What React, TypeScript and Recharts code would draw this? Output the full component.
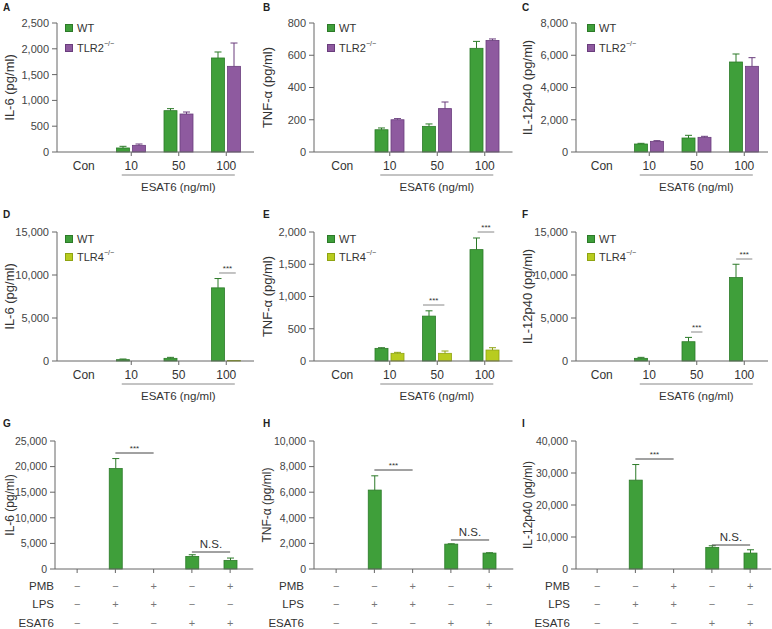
import { BarChart, Bar, XAxis, YAxis, Legend, ReferenceLine } from 'recharts';

// categories
const doseCats = ['Con', '10', '50', '100'];
const pmbRow = ['−', '−', '+', '−', '+'];
const lpsRow = ['−', '+', '+', '−', '−'];
const esatRow = ['−', '−', '−', '+', '+'];

// A: IL-6, WT vs TLR2-/-
const aWt = [0, 78, 801, 1822];
const aWtErr = [0, 32, 39, 116];
const aKo = [0, 129, 736, 1660];
const aKoErr = [0, 26, 39, 452];
const aTicks = [0, 500, 1000, 1500, 2000, 2500];

// B: TNF-a, WT vs TLR2-/-
const bWt = [0, 138, 159, 643];
const bWtErr = [0, 11, 15, 43];
const bKo = [0, 200, 269, 692];
const bKoErr = [0, 7, 41, 9];
const bTicks = [0, 200, 400, 600, 800];

// C: IL-12p40, WT vs TLR2-/-
const cWt = [0, 496, 868, 5581];
const cWtErr = [0, 41, 166, 497];
const cKo = [0, 661, 909, 5313];
const cKoErr = [0, 42, 63, 537];
const cTicks = [0, 2000, 4000, 6000, 8000];

// D: IL-6, WT vs TLR4-/-
const dWt = [0, 155, 309, 8505];
const dWtErr = [0, 77, 116, 1083];
const dKo = [0, 0, 0, 50];
const dKoErr = [0, 0, 0, 0];
const dTicks = [0, 5000, 10000, 15000];

// E: TNF-a, WT vs TLR4-/-
const eWt = [0, 196, 696, 1727];
const eWtErr = [0, 10, 82, 180];
const eKo = [0, 119, 119, 170];
const eKoErr = [0, 15, 36, 36];
const eTicks = [0, 500, 1000, 1500, 2000];

// F: IL-12p40, WT vs TLR4-/-
const fWt = [0, 309, 2242, 9704];
const fWtErr = [0, 116, 503, 1546];
const fKo = [0, 0, 0, 0];
const fKoErr = [0, 0, 0, 0];
const fTicks = [0, 5000, 10000, 15000];

// G-I: PMB / LPS / ESAT6
const gVals = [0, 19624, 0, 2461, 1684];
const gErr = [0, 1943, 0, 324, 453];
const gTicks = [0, 5000, 10000, 15000, 20000, 25000];
const hVals = [0, 6166, 0, 1943, 1244];
const hErr = [0, 1114, 0, 26, 26];
const hTicks = [0, 2000, 4000, 6000, 8000, 10000];
const iVals = [0, 27772, 0, 6736, 4974];
const iErr = [0, 4870, 0, 518, 1036];
const iTicks = [0, 10000, 20000, 30000, 40000];

type Sig = { from: number; to: number; y: number; label: string };
const dSig: Sig[] = [{ from: 2.85, to: 3.2, y: 10233, label: '***' }];
const eSig: Sig[] = [
  { from: 1.7, to: 2.15, y: 868, label: '***' },
  { from: 2.85, to: 3.2, y: 2000, label: '***' },
];
const fSig: Sig[] = [
  { from: 1.88, to: 2.12, y: 3372, label: '***' },
  { from: 2.83, to: 3.17, y: 11860, label: '***' },
];
const gSig: Sig[] = [
  { from: 1, to: 2, y: 22656, label: '***' },
  { from: 3, to: 4, y: 3320, label: 'N.S.' },
];
const hSig: Sig[] = [
  { from: 1, to: 2, y: 7734, label: '***' },
  { from: 3, to: 4, y: 2266, label: 'N.S.' },
];
const iSig: Sig[] = [
  { from: 1, to: 2, y: 34375, label: '***' },
  { from: 3, to: 4, y: 7500, label: 'N.S.' },
];

const W = 772;
const H = 629;
const FONT = '"Liberation Sans", Arial, Helvetica, sans-serif';
const TEXT = '#333';
const AXIS = '#666';

const GREEN = '#3f9f3a';
const GREEN_D = '#2c7a28';
const PURPLE = '#8e5a9f';
const PURPLE_D = '#6a3d7d';
const LIME = '#b8cc1f';
const LIME_D = '#8ea312';

const ROWS = [
  { plotTop: 23, zeroY: 152, legendTop: 18, legendRowH: 20, letterTop: 2.7 },
  { plotTop: 232, zeroY: 361, legendTop: 230, legendRowH: 18, letterTop: 210.4 },
  { plotTop: 441, zeroY: 569, legendTop: 0, legendRowH: 0, letterTop: 419.4 },
];
const DOSE_COLS = [
  { axisX: 57, padL: 3, padR: 4, labelX: 9, legendX: 65, letterX: 3 },
  { axisX: 314, padL: 4.5, padR: 4, labelX: 267, legendX: 327, letterX: 263 },
  { axisX: 576, padL: 2, padR: 0, labelX: 527.5, legendX: 587, letterX: 522 },
];
const LPS_COLS = [
  { axisX: 55, padL: 3, padR: 4, labelX: 10, rowLabelRight: 54, letterX: 3 },
  { axisX: 314, padL: 3, padR: 5, labelX: 267, rowLabelRight: 304, letterX: 263 },
  { axisX: 576, padL: 2, padR: 2, labelX: 527.5, rowLabelRight: 570, letterX: 522 },
];
const DOSE_BAND = 47.5;
const LPS_BAND = 38.25;

const fmt = (v: number) => v.toLocaleString('en-US');

function ErrShape(props: any) {
  const { x, y, width, height, payload, valKey, errKey, fill, stroke } = props;
  const v = payload[valKey];
  const e = payload[errKey];
  if (!v) return null;
  const k = height / v;
  const top = y - e * k;
  const cx = x + width / 2;
  return (
    <g>
      <rect x={x} y={y} width={width} height={height} fill={fill} stroke={stroke} strokeWidth={0.8} />
      {e > 0 && (
        <g stroke={stroke} strokeWidth={1}>
          <line x1={cx} x2={cx} y1={y} y2={top} />
          <line x1={cx - 3.5} x2={cx + 3.5} y1={top} y2={top} />
        </g>
      )}
    </g>
  );
}

function DoseTick(props: any) {
  const { x, y, payload } = props;
  const i = payload.value;
  return (
    <g>
      {i > 0 && <line x1={x} x2={x} y1={y} y2={y + 4} stroke={AXIS} />}
      <text x={x} y={y + 18} textAnchor="middle" fontSize={12} fill={TEXT}>
        {doseCats[i]}
      </text>
    </g>
  );
}

function LegendBox({ payload, rowH }: any) {
  // WT first, as in the figure
  const items = [...(payload || [])].sort((a: any, b: any) => (a.value === 'WT' ? -1 : b.value === 'WT' ? 1 : 0));
  return (
    <div style={{ fontFamily: FONT, fontSize: 11, color: TEXT }}>
      {items.map((p: any) => {
        const m = String(p.value).match(/^(.*?)(−\/−)?$/) || [];
        return (
          <div key={p.value} style={{ display: 'flex', alignItems: 'center', height: rowH }}>
            <span style={{ width: 8, height: 8, background: p.color, display: 'inline-block', boxSizing: 'border-box', border: `0.8px solid ${p.payload?.stroke || p.color}` }} />
            <span style={{ marginLeft: 4, whiteSpace: 'nowrap' }}>
              {m[1]}
              {m[2] && <sup style={{ fontSize: 7, verticalAlign: 'top', position: 'relative', top: -2 }}>{m[2]}</sup>}
            </span>
          </div>
        );
      })}
    </div>
  );
}

function sigLines(sig: Sig[], color: string) {
  return sig.map((s, k) => (
    <ReferenceLine
      key={k}
      segment={[{ x: s.from, y: s.y }, { x: s.to, y: s.y }]}
      stroke={color}
      strokeWidth={1}
      ifOverflow="visible"
      label={{
        value: s.label,
        position: 'top',
        offset: s.label === '***' ? 2 : 4,
        fontSize: s.label === '***' ? 8 : 11.5,
        fill: TEXT,
      }}
    />
  ));
}

type DoseProps = {
  row: number; col: number; yLabel: string; yTicks: number[];
  wt: number[]; wtErr: number[]; ko: number[]; koErr: number[];
  koName: string; koColor: string; koStroke: string; sig: Sig[];
};

function DosePanel(p: DoseProps) {
  const r = ROWS[p.row];
  const c = DOSE_COLS[p.col];
  const xh = 50;
  const yMax = p.yTicks[p.yTicks.length - 1];
  const ph = r.zeroY - r.plotTop;
  const bracketY = -(23 / ph) * yMax;
  const data = doseCats.map((_, i) => ({ i, wt: p.wt[i], wtErr: p.wtErr[i], ko: p.ko[i], koErr: p.koErr[i] }));
  const left = c.labelX - 8;
  const right = W - (c.axisX + c.padL + 4 * DOSE_BAND + c.padR);
  return (
    <div style={{ position: 'absolute', left: 0, top: 0 }}>
      <BarChart width={W} height={H} data={data} barSize={13} barGap={3}
        margin={{ top: r.plotTop, right, bottom: H - r.zeroY - xh, left }}>
        <XAxis type="number" dataKey="i" domain={[-0.5, 3.5]} ticks={[0, 1, 2, 3]} interval={0}
          padding={{ left: c.padL, right: c.padR }} height={xh} stroke={AXIS}
          tickLine={false} tickSize={0} tickMargin={0} tick={(tp: any) => <DoseTick {...tp} />} />
        <YAxis domain={[0, yMax]} ticks={p.yTicks} interval={0} width={c.axisX - left} stroke={AXIS}
          tickSize={5} tickMargin={3} tickFormatter={fmt} tick={{ fontSize: 11, fill: '#444' }}
          label={{ value: p.yLabel, angle: -90, position: 'insideLeft', offset: 8, fontSize: 13, fill: TEXT, style: { textAnchor: 'middle' } }} />
        <Legend layout="vertical" align="center" verticalAlign="middle"
          wrapperStyle={{ left: c.legendX, top: r.legendTop, width: 'auto' }}
          content={(lp: any) => <LegendBox {...lp} rowH={r.legendRowH} />} />
        <Bar dataKey="wt" name="WT" fill={GREEN} stroke={GREEN_D} isAnimationActive={false}
          shape={(sp: any) => <ErrShape {...sp} valKey="wt" errKey="wtErr" fill={GREEN} stroke={GREEN_D} />} />
        <Bar dataKey="ko" name={p.koName} fill={p.koColor} stroke={p.koStroke} isAnimationActive={false}
          shape={(sp: any) => <ErrShape {...sp} valKey="ko" errKey="koErr" fill={p.koColor} stroke={p.koStroke} />} />
        <ReferenceLine segment={[{ x: 0.8, y: bracketY }, { x: 3.18, y: bracketY }]} stroke="#888" ifOverflow="visible"
          label={{ value: 'ESAT6 (ng/ml)', position: 'bottom', offset: 8, fontSize: 11.5, fill: TEXT }} />
        {sigLines(p.sig, '#888')}
      </BarChart>
    </div>
  );
}

const lpsRows = [
  { name: 'PMB', vals: pmbRow, dy: 17 },
  { name: 'LPS', vals: lpsRow, dy: 35 },
  { name: 'ESAT6', vals: esatRow, dy: 54 },
];

function LpsTick(props: any) {
  const { x, y, payload, rowLabelRight } = props;
  const i = payload.value;
  return (
    <g>
      <line x1={x} x2={x} y1={y} y2={y + 4} stroke={AXIS} />
      {lpsRows.map((lr) => (
        <text key={lr.name} x={x} y={y + lr.dy + 4} textAnchor="middle" fontSize={11} fill="#777">
          {lr.vals[i]}
        </text>
      ))}
      {i === 0 && lpsRows.map((lr) => (
        <text key={'n' + lr.name} x={rowLabelRight} y={y + lr.dy + 4} textAnchor="end" fontSize={11.5} fill={TEXT}>
          {lr.name}
        </text>
      ))}
    </g>
  );
}

type LpsProps = { col: number; yLabel: string; yTicks: number[]; vals: number[]; err: number[]; sig: Sig[] };

function LpsPanel(p: LpsProps) {
  const r = ROWS[2];
  const c = LPS_COLS[p.col];
  const xh = 60;
  const yMax = p.yTicks[p.yTicks.length - 1];
  const data = p.vals.map((v, i) => ({ i, v, e: p.err[i] }));
  const left = c.labelX - 8;
  const right = W - (c.axisX + c.padL + 5 * LPS_BAND + c.padR);
  return (
    <div style={{ position: 'absolute', left: 0, top: 0 }}>
      <BarChart width={W} height={H} data={data} barSize={13}
        margin={{ top: r.plotTop, right, bottom: H - r.zeroY - xh, left }}>
        <XAxis type="number" dataKey="i" domain={[-0.5, 4.5]} ticks={[0, 1, 2, 3, 4]} interval={0}
          padding={{ left: c.padL, right: c.padR }} height={xh} stroke={AXIS}
          tickLine={false} tickSize={0} tickMargin={0}
          tick={(tp: any) => <LpsTick {...tp} rowLabelRight={c.rowLabelRight} />} />
        <YAxis domain={[0, yMax]} ticks={p.yTicks} interval={0} width={c.axisX - left} stroke={AXIS}
          tickSize={5} tickMargin={3} tickFormatter={fmt} tick={{ fontSize: 10.5, fill: '#444' }}
          label={{ value: p.yLabel, angle: -90, position: 'insideLeft', offset: 8, fontSize: 12, fill: TEXT, style: { textAnchor: 'middle' } }} />
        <Bar dataKey="v" fill={GREEN} stroke={GREEN_D} isAnimationActive={false}
          shape={(sp: any) => <ErrShape {...sp} valKey="v" errKey="e" fill={GREEN} stroke={GREEN_D} />} />
        {sigLines(p.sig, '#444')}
      </BarChart>
    </div>
  );
}

const letters = [
  { t: 'A', row: 0, col: 0 }, { t: 'B', row: 0, col: 1 }, { t: 'C', row: 0, col: 2 },
  { t: 'D', row: 1, col: 0 }, { t: 'E', row: 1, col: 1 }, { t: 'F', row: 1, col: 2 },
  { t: 'G', row: 2, col: 0 }, { t: 'H', row: 2, col: 1 }, { t: 'I', row: 2, col: 2 },
];

export default function App() {
  const ko2 = 'TLR2−/−';
  const ko4 = 'TLR4−/−';
  return (
    <div style={{ position: 'absolute', left: 0, top: 0, width: W, height: H, background: '#fff', fontFamily: FONT, overflow: 'hidden' }}>
      <DosePanel row={0} col={0} yLabel="IL-6 (pg/ml)" yTicks={aTicks} wt={aWt} wtErr={aWtErr} ko={aKo} koErr={aKoErr} koName={ko2} koColor={PURPLE} koStroke={PURPLE_D} sig={[]} />
      <DosePanel row={0} col={1} yLabel="TNF-α (pg/ml)" yTicks={bTicks} wt={bWt} wtErr={bWtErr} ko={bKo} koErr={bKoErr} koName={ko2} koColor={PURPLE} koStroke={PURPLE_D} sig={[]} />
      <DosePanel row={0} col={2} yLabel="IL-12p40 (pg/ml)" yTicks={cTicks} wt={cWt} wtErr={cWtErr} ko={cKo} koErr={cKoErr} koName={ko2} koColor={PURPLE} koStroke={PURPLE_D} sig={[]} />
      <DosePanel row={1} col={0} yLabel="IL-6 (pg/ml)" yTicks={dTicks} wt={dWt} wtErr={dWtErr} ko={dKo} koErr={dKoErr} koName={ko4} koColor={LIME} koStroke={LIME_D} sig={dSig} />
      <DosePanel row={1} col={1} yLabel="TNF-α (pg/ml)" yTicks={eTicks} wt={eWt} wtErr={eWtErr} ko={eKo} koErr={eKoErr} koName={ko4} koColor={LIME} koStroke={LIME_D} sig={eSig} />
      <DosePanel row={1} col={2} yLabel="IL-12p40 (pg/ml)" yTicks={fTicks} wt={fWt} wtErr={fWtErr} ko={fKo} koErr={fKoErr} koName={ko4} koColor={LIME} koStroke={LIME_D} sig={fSig} />
      <LpsPanel col={0} yLabel="IL-6 (pg/ml)" yTicks={gTicks} vals={gVals} err={gErr} sig={gSig} />
      <LpsPanel col={1} yLabel="TNF-α (pg/ml)" yTicks={hTicks} vals={hVals} err={hErr} sig={hSig} />
      <LpsPanel col={2} yLabel="IL-12p40 (pg/ml)" yTicks={iTicks} vals={iVals} err={iErr} sig={iSig} />
      {letters.map((l) => (
        <div key={l.t} style={{ position: 'absolute', left: DOSE_COLS[l.col].letterX, top: ROWS[l.row].letterTop, fontSize: 10, lineHeight: '10px', fontWeight: 'bold', color: '#222' }}>
          {l.t}
        </div>
      ))}
    </div>
  );
}
